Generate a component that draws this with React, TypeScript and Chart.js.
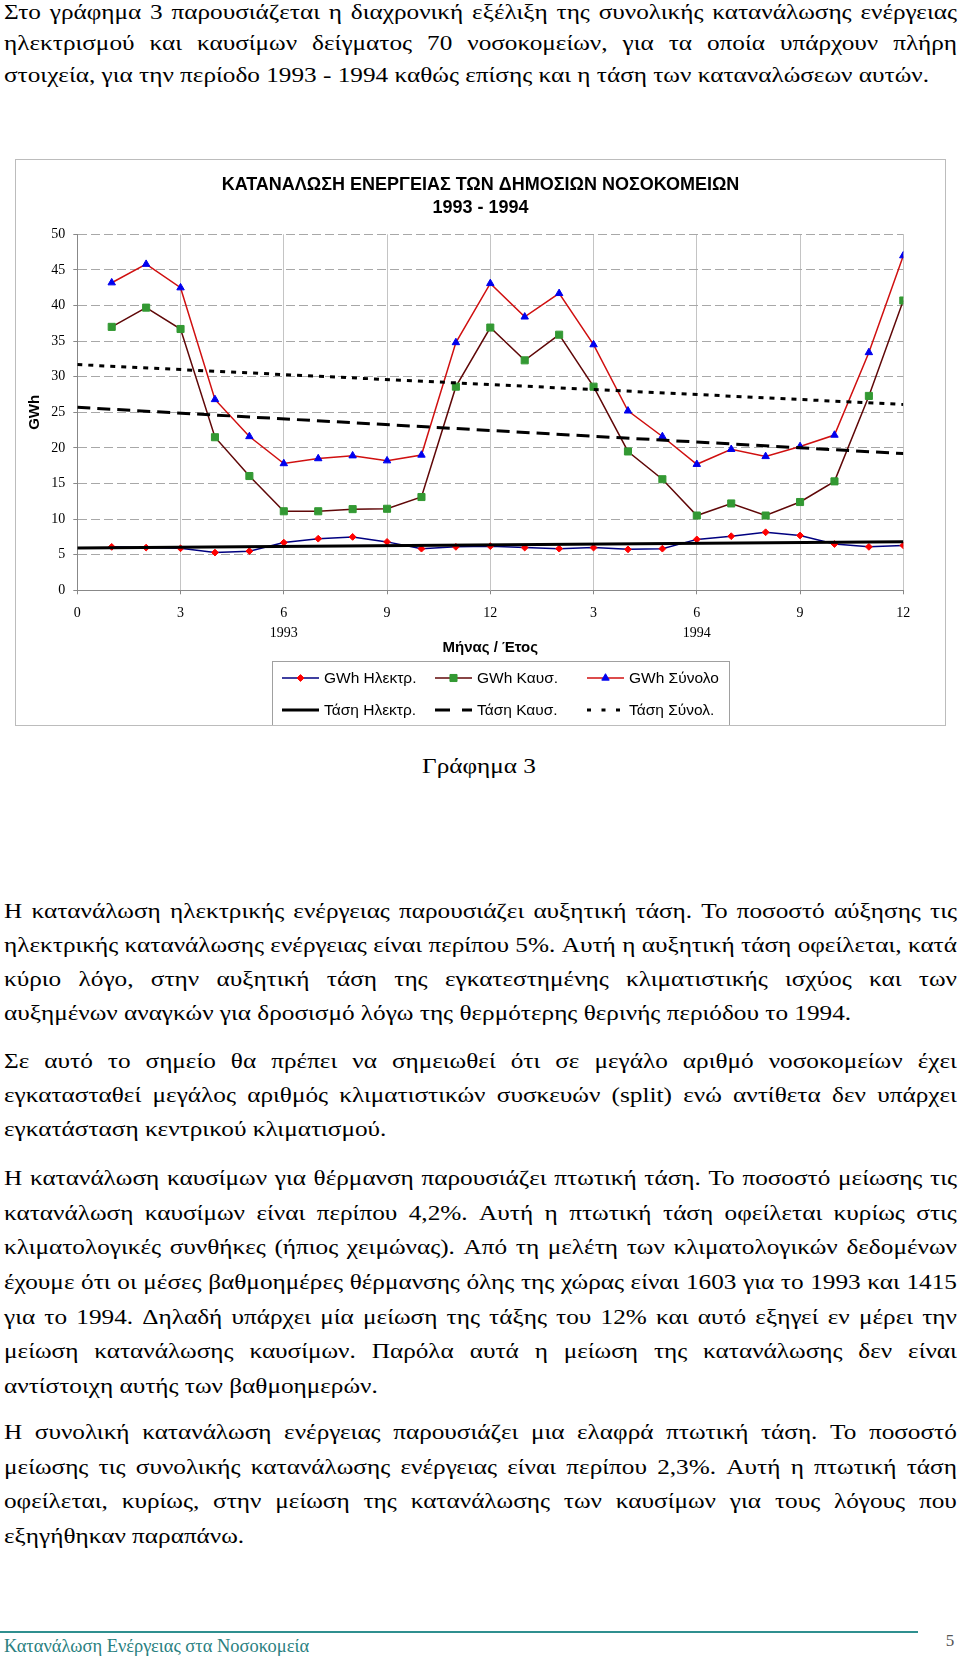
import React, { useEffect, useRef } from "react";
import { Chart, registerables } from "chart.js";

Chart.register(...registerables);

// ---------------- data ----------------
const months = [1, 2, 3, 4, 5, 6, 7, 8, 9, 10, 11, 12, 13, 14, 15, 16, 17, 18, 19, 20, 21, 22, 23, 24];
const elecGWh = [6.1, 6.0, 5.9, 5.3, 5.5, 6.7, 7.25, 7.5, 6.8, 5.85, 6.1, 6.2, 6.0, 5.85, 6.0, 5.75, 5.85, 7.15, 7.6, 8.15, 7.7, 6.5, 6.1, 6.3];
const fuelGWh = [37.0, 39.7, 36.7, 21.5, 16.05, 11.1, 11.1, 11.4, 11.45, 13.1, 28.6, 36.9, 32.3, 35.9, 28.6, 19.5, 15.6, 10.5, 12.2, 10.5, 12.4, 15.3, 27.3, 40.7];
const totalGWh = [43.2, 45.8, 42.5, 26.8, 21.6, 17.8, 18.5, 18.9, 18.2, 19.0, 34.8, 43.1, 38.4, 41.7, 34.5, 25.2, 21.6, 17.7, 19.8, 18.8, 20.2, 21.8, 33.4, 47.0];

const trendX = [0, 24];
const trendElec = [5.94, 6.83];
const trendFuel = [25.7, 19.2];
const trendTotal = [31.7, 26.1];

const xTickValues = [0, 3, 6, 9, 12, 15, 18, 21, 24];
const xTickLabels = ["0", "3", "6", "9", "12", "3", "6", "9", "12"];
const yearTickValues = [6, 18];
const yearLabels = ["1993", "1994"];

const seriesLabels = ["GWh Ηλεκτρ.", "GWh Καυσ.", "GWh Σύνολο", "Τάση Ηλεκτρ.", "Τάση Καυσ.", "Τάση Σύνολ."];
const chartTitle = ["ΚΑΤΑΝΑΛΩΣΗ ΕΝΕΡΓΕΙΑΣ ΤΩΝ ΔΗΜΟΣΙΩΝ ΝΟΣΟΚΟΜΕΙΩΝ", "1993 - 1994"];
const xTitle = "Μήνας / Έτος";
const yTitle = "GWh";

// ---------------- page text ----------------
const para1 = [
  "Στο γράφημα 3 παρουσιάζεται η διαχρονική εξέλιξη της συνολικής κατανάλωσης ενέργειας",
  "ηλεκτρισμού και καυσίμων δείγματος 70 νοσοκομείων, για τα οποία υπάρχουν πλήρη",
  "στοιχεία, για την περίοδο 1993 - 1994 καθώς επίσης και η τάση των καταναλώσεων αυτών.",
];
const para2 = [
  "Η κατανάλωση ηλεκτρικής ενέργειας παρουσιάζει αυξητική τάση. Το ποσοστό αύξησης τις",
  "ηλεκτρικής κατανάλωσης ενέργειας είναι περίπου 5%. Αυτή η αυξητική τάση οφείλεται, κατά",
  "κύριο λόγο, στην αυξητική τάση της εγκατεστημένης κλιματιστικής ισχύος και των",
  "αυξημένων αναγκών για δροσισμό λόγω της θερμότερης θερινής περιόδου το 1994.",
];
const para3 = [
  "Σε αυτό το σημείο θα πρέπει να σημειωθεί ότι σε μεγάλο αριθμό νοσοκομείων έχει",
  "εγκατασταθεί μεγάλος αριθμός κλιματιστικών συσκευών (split) ενώ αντίθετα δεν υπάρχει",
  "εγκατάσταση κεντρικού κλιματισμού.",
];
const para4 = [
  "Η κατανάλωση καυσίμων για θέρμανση παρουσιάζει πτωτική τάση. Το ποσοστό μείωσης τις",
  "κατανάλωση καυσίμων είναι περίπου 4,2%. Αυτή η πτωτική τάση οφείλεται κυρίως στις",
  "κλιματολογικές συνθήκες (ήπιος χειμώνας). Από τη μελέτη των κλιματολογικών δεδομένων",
  "έχουμε ότι οι μέσες βαθμοημέρες θέρμανσης όλης της χώρας είναι 1603 για το 1993 και 1415",
  "για το 1994. Δηλαδή υπάρχει μία μείωση της τάξης του 12% και αυτό εξηγεί εν μέρει την",
  "μείωση κατανάλωσης καυσίμων. Παρόλα αυτά η μείωση της κατανάλωσης δεν είναι",
  "αντίστοιχη αυτής των βαθμοημερών.",
];
const para5 = [
  "Η συνολική κατανάλωση ενέργειας παρουσιάζει μια ελαφρά πτωτική τάση. Το ποσοστό",
  "μείωσης τις συνολικής κατανάλωσης ενέργειας είναι περίπου 2,3%. Αυτή η πτωτική τάση",
  "οφείλεται, κυρίως, στην μείωση της κατανάλωσης των καυσίμων για τους λόγους που",
  "εξηγήθηκαν παραπάνω.",
];
const caption = "Γράφημα 3";
const footerText = "Κατανάλωση Ενέργειας στα Νοσοκομεία";
const pageNumber = "5";

const SERIF = '"Liberation Serif", "Times New Roman", serif';
const SANS = '"Liberation Sans", Arial, sans-serif';

const BODY_FONT = 22;
const BODY_STRETCH = 1.147;
const TEXT_LEFT = 4;
const TEXT_WIDTH = 953;

// legend sample dash patterns (legend drawing only)
const legendDash = [[], [], [], [], [15, 12], [4, 10.5]];

function drawMarker(ctx: CanvasRenderingContext2D, style: string, r: number, x: number, y: number, color: string) {
  ctx.save();
  ctx.fillStyle = color;
  ctx.strokeStyle = color;
  ctx.lineWidth = 1;
  ctx.setLineDash([]);
  ctx.beginPath();
  if (style === "rectRot") {
    ctx.moveTo(x - r, y);
    ctx.lineTo(x, y - r);
    ctx.lineTo(x + r, y);
    ctx.lineTo(x, y + r);
    ctx.closePath();
  } else if (style === "rect") {
    const s = r * Math.SQRT1_2;
    ctx.rect(x - s, y - s, 2 * s, 2 * s);
  } else if (style === "triangle") {
    let a = 0;
    ctx.moveTo(x + Math.sin(a) * r, y - Math.cos(a) * r);
    a += (2 * Math.PI) / 3;
    ctx.lineTo(x + Math.sin(a) * r, y - Math.cos(a) * r);
    a += (2 * Math.PI) / 3;
    ctx.lineTo(x + Math.sin(a) * r, y - Math.cos(a) * r);
    ctx.closePath();
  }
  ctx.fill();
  ctx.stroke();
  ctx.restore();
}

const overlayPlugin = {
  id: "overlay",
  afterDraw(chart: any) {
    const ctx: CanvasRenderingContext2D = chart.ctx;
    const W = chart.width;
    ctx.save();
    // title
    ctx.fillStyle = "#000";
    ctx.textAlign = "center";
    ctx.textBaseline = "middle";
    ctx.font = `bold 18px ${SANS}`;
    chartTitle.forEach((t, i) => ctx.fillText(t, W / 2, 26 + i * 23));

    // legend box
    ctx.strokeStyle = "#a0a0a0";
    ctx.lineWidth = 1;
    ctx.strokeRect(257.5, 502.5, 457, 64);

    const cols = [267, 420, 572];
    const rows = [519, 551];
    const sampleLen = 37;
    const datasets = chart.data.datasets;
    ctx.font = `15.5px ${SANS}`;
    ctx.textAlign = "left";
    ctx.textBaseline = "middle";
    for (let i = 0; i < 6; i++) {
      const ds: any = datasets[i];
      const x0 = cols[i % 3];
      const y = rows[Math.floor(i / 3)];
      ctx.save();
      ctx.strokeStyle = ds.borderColor;
      ctx.lineWidth = ds.borderWidth;
      ctx.lineCap = "butt";
      ctx.setLineDash(legendDash[i]);
      ctx.beginPath();
      ctx.moveTo(x0, y);
      ctx.lineTo(x0 + sampleLen, y);
      ctx.stroke();
      ctx.restore();
      if (ds.pointRadius > 0) {
        drawMarker(ctx, ds.pointStyle, ds.pointRadius, x0 + sampleLen / 2, y, ds.pointBackgroundColor);
      }
      ctx.fillStyle = "#000";
      ctx.fillText(ds.label, x0 + 42, y + 1);
    }
    ctx.restore();
  },
};

function EnergyChart() {
  const ref = useRef<HTMLCanvasElement | null>(null);
  useEffect(() => {
    const canvas = ref.current;
    if (!canvas) return;
    const pts = (arr: number[]) => months.map((m, i) => ({ x: m, y: arr[i] }));
    const tpts = (arr: number[]) => trendX.map((x, i) => ({ x, y: arr[i] }));
    const chart = new Chart(canvas, {
      type: "line",
      data: {
        datasets: [
          {
            label: seriesLabels[0],
            data: pts(elecGWh),
            borderColor: "#000080",
            borderWidth: 1.5,
            pointStyle: "rectRot",
            pointRadius: 3.4,
            pointBackgroundColor: "#ff0000",
            pointBorderColor: "#ff0000",
            pointBorderWidth: 1,
            tension: 0,
            order: 2,
          },
          {
            label: seriesLabels[1],
            data: pts(fuelGWh),
            borderColor: "#600808",
            borderWidth: 1.5,
            pointStyle: "rect",
            pointRadius: 5,
            pointBackgroundColor: "#339933",
            pointBorderColor: "#339933",
            pointBorderWidth: 1,
            tension: 0,
            order: 2,
          },
          {
            label: seriesLabels[2],
            data: pts(totalGWh),
            borderColor: "#d01010",
            borderWidth: 1.5,
            pointStyle: "triangle",
            pointRadius: 4.3,
            pointBackgroundColor: "#0000ee",
            pointBorderColor: "#0000ee",
            pointBorderWidth: 1,
            tension: 0,
            order: 2,
          },
          {
            label: seriesLabels[3],
            data: tpts(trendElec),
            borderColor: "#000000",
            borderWidth: 3,
            pointRadius: 0,
            tension: 0,
            order: 1,
          },
          {
            label: seriesLabels[4],
            data: tpts(trendFuel),
            borderColor: "#000000",
            borderWidth: 3,
            borderDash: [13, 7],
            pointRadius: 0,
            tension: 0,
            order: 1,
          },
          {
            label: seriesLabels[5],
            data: tpts(trendTotal),
            borderColor: "#000000",
            borderWidth: 3,
            borderDash: [5, 6],
            pointRadius: 0,
            tension: 0,
            order: 1,
          },
        ],
      },
      options: {
        responsive: false,
        animation: false,
        events: [],
        layout: { padding: { left: 0, right: 42.7, top: 75.3, bottom: 65.7 } },
        plugins: {
          legend: { display: false },
          title: { display: false },
          tooltip: { enabled: false },
        },
        scales: {
          x: {
            type: "linear",
            min: 0,
            max: 24,
            afterFit: (s: any) => {
              s.height = 70;
            },
            ticks: {
              stepSize: 3,
              autoSkip: false,
              maxRotation: 0,
              padding: 8.7,
              color: "#000",
              font: { family: SERIF, size: 14, lineHeight: 20 / 14 },
              callback: (v: any) => {
                const i = xTickValues.indexOf(Number(v));
                const lab = i >= 0 ? xTickLabels[i] : "";
                const yi = yearTickValues.indexOf(Number(v));
                return yi >= 0 ? [lab, yearLabels[yi]] : lab;
              },
            },
            grid: {
              color: "#c4c4c4",
              lineWidth: 1,
              drawTicks: true,
              tickLength: 4,
              tickColor: "#888888",
            },
            border: { color: "#888888", width: 1 },
            title: {
              display: true,
              text: xTitle,
              color: "#000",
              font: { family: SANS, size: 15, weight: "bold", lineHeight: 1.2 },
              padding: { top: 0, bottom: 3.4 },
            },
          },
          y: {
            min: 0,
            max: 50,
            afterFit: (s: any) => {
              s.width = 62.3;
            },
            ticks: {
              stepSize: 5,
              padding: 8,
              color: "#000",
              font: { family: SERIF, size: 14 },
            },
            grid: {
              color: "#a8a8a8",
              lineWidth: 1,
              drawTicks: true,
              tickLength: 4,
              tickColor: "#888888",
            },
            border: { color: "#888888", width: 1, dash: [9, 4] },
            title: {
              display: true,
              text: yTitle,
              color: "#000",
              font: { family: SANS, size: 15, weight: "bold", lineHeight: 1.2 },
              padding: { top: 11, bottom: 0 },
            },
          },
        },
      },
      plugins: [overlayPlugin],
    } as any);
    return () => chart.destroy();
  }, []);
  return <canvas ref={ref} width={931} height={567} style={{ display: "block", width: 931, height: 567 }} />;
}

function baselineTop(baseline: number, lh: number, fs: number) {
  // Liberation Serif: ascent 0.891, descent 0.216
  const content = fs * 1.107;
  return baseline - ((lh - content) / 2 + fs * 0.891);
}

function Para({ baseline, lines, lh }: { baseline: number; lines: string[]; lh: number }) {
  const top = baselineTop(baseline, lh, BODY_FONT);
  return (
    <div
      style={{
        position: "absolute",
        left: TEXT_LEFT,
        top,
        width: TEXT_WIDTH / BODY_STRETCH,
        transform: `scaleX(${BODY_STRETCH})`,
        transformOrigin: "left top",
        fontSize: BODY_FONT,
      }}
    >
      {lines.map((t, i) => {
        const last = i === lines.length - 1;
        if (last) {
          return (
            <div key={i} style={{ height: lh, lineHeight: `${lh}px`, whiteSpace: "nowrap" }}>
              {t}
            </div>
          );
        }
        const words = t.split(" ");
        return (
          <div
            key={i}
            style={{
              display: "flex",
              justifyContent: "space-between",
              height: lh,
              lineHeight: `${lh}px`,
              whiteSpace: "nowrap",
            }}
          >
            {words.map((w, j) => (
              <React.Fragment key={j}>
                <span>{w}</span>
                {j < words.length - 1 ? " " : null}
              </React.Fragment>
            ))}
          </div>
        );
      })}
    </div>
  );
}

export default function App() {
  const capLh = 34;
  return (
    <div
      style={{
        position: "relative",
        width: 960,
        height: 1664,
        overflow: "hidden",
        fontFamily: SERIF,
        fontSize: BODY_FONT,
        color: "#000",
        background: "#fff",
      }}
    >
      <style>{"html,body{margin:0;padding:0;background:#fff;}"}</style>
      <Para baseline={19} lines={para1} lh={31.8} />

      <div style={{ position: "absolute", left: 15, top: 159, width: 931, height: 567 }}>
        <EnergyChart />
        <div
          style={{
            position: "absolute",
            left: 0,
            top: 0,
            width: 931,
            height: 567,
            boxSizing: "border-box",
            border: "1px solid #bcbcbc",
            pointerEvents: "none",
          }}
        />
      </div>

      <div
        style={{
          position: "absolute",
          left: 479 - 200,
          width: 400,
          top: baselineTop(773.5, capLh, BODY_FONT),
          height: capLh,
          lineHeight: `${capLh}px`,
          textAlign: "center",
          transform: `scaleX(${BODY_STRETCH})`,
          transformOrigin: "center top",
        }}
      >
        {caption}
      </div>

      <Para baseline={918.5} lines={para2} lh={33.8} />
      <Para baseline={1068} lines={para3} lh={34} />
      <Para baseline={1186} lines={para4} lh={34.6} />
      <Para baseline={1440} lines={para5} lh={34.5} />

      <div style={{ position: "absolute", left: 0, top: 1631, width: 918, height: 2, background: "#2f8f8f" }} />
      <div
        style={{
          position: "absolute",
          left: 4,
          top: baselineTop(1652.3, 22, 19.5),
          fontSize: 19.5,
          lineHeight: "22px",
          color: "#2a7f80",
          whiteSpace: "nowrap",
          transform: "scaleX(0.946)",
          transformOrigin: "left top",
        }}
      >
        {footerText}
      </div>
      <div
        style={{
          position: "absolute",
          left: 940,
          width: 20,
          top: 1630,
          fontSize: 17,
          lineHeight: "22px",
          color: "#555",
          textAlign: "center",
        }}
      >
        {pageNumber}
      </div>
    </div>
  );
}
